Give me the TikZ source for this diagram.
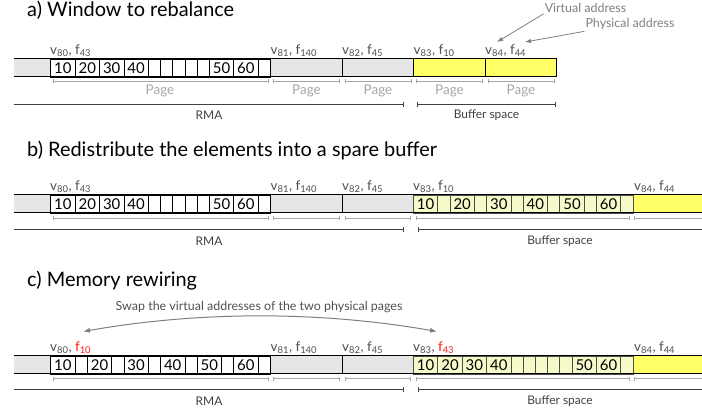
\documentclass[tikz,border=0pt]{standalone}
\usepackage{fontspec}
\setmainfont{Lato}
\usetikzlibrary{arrows.meta}
\definecolor{bargray}{HTML}{E6E6E6}
\definecolor{bufyellow}{HTML}{FFFF66}
\definecolor{lightyellow}{HTML}{F5FAC8}
\definecolor{labgray}{HTML}{505050}
\definecolor{pagegray}{HTML}{A6A6A6}
\definecolor{rulegray}{HTML}{404040}
\definecolor{arrowgray}{HTML}{7F7F7F}
\definecolor{hlred}{HTML}{FF1A1A}
\newcommand\cellsA[4]{%
  \foreach \o/\w/\t [count=\i] in {0/2/10,2/2/20,4/2/30,6/2/40,8/1/,9/1/,10/1/,11/1/,12/1/,13/2/50,15/2/60,17/1/}{
    \node[#3, minimum width=\w*12.2bp] (#4-\i) at ({#1+\o*12.2},#2) {\t};
  }}
\newcommand\cellsB[4]{%
  \foreach \o/\w/\t [count=\i] in {0/2/10,2/1/,3/2/20,5/1/,6/2/30,8/1/,9/2/40,11/1/,12/2/50,14/1/,15/2/60,17/1/}{
    \node[#3, minimum width=\w*12.2bp] (#4-\i) at ({#1+\o*12.2},#2) {\t};
  }}
\begin{document}
\begin{tikzpicture}[x=1bp,y=-1bp,
  title/.style={anchor=base west, inner sep=0, font=\fontsize{20}{23}\selectfont},
  addr/.style={anchor=base west, inner sep=0, text=labgray, font=\fontsize{13.5}{15}\selectfont},
  cellw/.style={draw=black, fill=white, line width=0.8bp, inner sep=0, minimum height=18bp, anchor=north west, font=\fontsize{15}{17}\selectfont},
  celly/.style={cellw, fill=lightyellow, draw=black!70},
  barline/.style={draw=black, line width=0.8bp},
  pagebr/.style={draw=pagegray, line width=0.7bp},
  pagetxt/.style={text=pagegray, inner sep=0, font=\fontsize{13.5}{15}\selectfont},
  rmaline/.style={draw=rulegray, line width=1bp},
  rmatxt/.style={text=rulegray, inner sep=0, font=\fontsize{12}{14}\selectfont},
  annot/.style={text=arrowgray, inner sep=0, font=\fontsize{12.5}{14}\selectfont},
  annarrow/.style={draw=arrowgray, line width=0.8bp, -{Latex[length=6bp,width=4.5bp]}},
  swaparrow/.style={draw=arrowgray, line width=1bp, {Latex[length=7bp,width=5bp]}-{Latex[length=7bp,width=5bp]}}
]
\useasboundingbox (0,0) rectangle (702,415);

% ---------------- a)
\node[title] (ta) at (27,16) {a) Window to rebalance};
\fill[bargray] (14,58.5) rectangle (413.5,76.5);
\fill[bufyellow] (413.5,58.5) rectangle (556.5,76.5);
\cellsA{50.3}{58.5}{cellw}{a1}
\draw[barline] (14,58.5) -- (556.5,58.5) -- (556.5,76.5) -- (14,76.5);
\draw[barline] (270.5,58.5) -- (270.5,76.5) (342,58.5) -- (342,76.5) (413.5,58.5) -- (413.5,76.5) (485,58.5) -- (485,76.5);
\node[addr] (a80) at (50,54.5) {v\textsubscript{80}, f\textsubscript{43}};
\node[addr] (a81) at (270.5,54.5) {v\textsubscript{81}, f\textsubscript{140}};
\node[addr] (a82) at (342,54.5) {v\textsubscript{82}, f\textsubscript{45}};
\node[addr] (a83) at (413.5,54.5) {v\textsubscript{83}, f\textsubscript{10}};
\node[addr] (a84) at (485,54.5) {v\textsubscript{84}, f\textsubscript{44}};
\draw[pagebr, {Bar[width=4bp]}-{Bar[width=4bp]}] (52.5,81) -- (268.5,81);
\draw[pagebr, {Bar[width=4bp]}-{Bar[width=4bp]}] (273,81) -- (340,81);
\draw[pagebr, {Bar[width=4bp]}-{Bar[width=4bp]}] (344.5,81) -- (411.5,81);
\draw[pagebr, {Bar[width=4bp]}-{Bar[width=4bp]}] (416,81) -- (483,81);
\draw[pagebr, {Bar[width=4bp]}-{Bar[width=4bp]}] (487.5,81) -- (554.5,81);
\node[pagetxt] (p1) at (160,91) {Page};
\node[pagetxt] (p2) at (306.5,91) {Page};
\node[pagetxt] (p3) at (378,91) {Page};
\node[pagetxt] (p4) at (449.5,91) {Page};
\node[pagetxt] (p5) at (521,91) {Page};
\draw[rmaline, -{Bar[width=5bp]}] (14,104.3) -- (404,104.3);
\draw[rmaline, {Bar[width=5bp]}-{Bar[width=5bp]}] (417,104.3) -- (556,104.3);
\node[rmatxt] (arma) at (209,115.5) {RMA};
\node[rmatxt] (abuf) at (486.5,115.5) {Buffer space};
\node[annot] (virt) at (585.5,8) {Virtual address};
\node[annot] (phys) at (630,23.5) {Physical address};
\coordinate (vtip) at (497,42);
\coordinate (ptip) at (525,42);
\draw[annarrow] ([xshift=-1bp,yshift=-1bp]virt.south west) -- (vtip);
\draw[annarrow] ([xshift=-1bp,yshift=-2bp]phys.south west) -- (ptip);

% ---------------- b)
\node[title] (tb) at (27,156.7) {b) Redistribute the elements into a spare buffer};
\fill[bargray] (14,194.5) rectangle (413,212.5);
\fill[bufyellow] (632,194.5) rectangle (702,212.5);
\cellsA{50.3}{194.5}{cellw}{b1}
\cellsB{413}{194.5}{celly}{b4}
\draw[barline] (14,194.5) -- (702,194.5) (14,212.5) -- (702,212.5);
\draw[barline] (270.5,194.5) -- (270.5,212.5) (342,194.5) -- (342,212.5);
\node[addr] (b80) at (50,190.5) {v\textsubscript{80}, f\textsubscript{43}};
\node[addr] (b81) at (270.5,190.5) {v\textsubscript{81}, f\textsubscript{140}};
\node[addr] (b82) at (342,190.5) {v\textsubscript{82}, f\textsubscript{45}};
\node[addr] (b83) at (413,190.5) {v\textsubscript{83}, f\textsubscript{10}};
\node[addr] (b84) at (634,190.5) {v\textsubscript{84}, f\textsubscript{44}};
\draw[pagebr, {Bar[width=4bp]}-{Bar[width=4bp]}] (52.5,218.3) -- (268.5,218.3);
\draw[pagebr, {Bar[width=4bp]}-{Bar[width=4bp]}] (273,218.3) -- (340,218.3);
\draw[pagebr, {Bar[width=4bp]}-{Bar[width=4bp]}] (344.5,218.3) -- (411,218.3);
\draw[pagebr, {Bar[width=4bp]}-{Bar[width=4bp]}] (415.5,218.3) -- (629.5,218.3);
\draw[pagebr, {Bar[width=4bp]}-] (634,218.3) -- (702,218.3);
\draw[rmaline, -{Bar[width=5bp]}] (14,229) -- (404,229);
\draw[rmaline, {Bar[width=5bp]}-] (418,229) -- (702,229);
\node[rmatxt] (brma) at (209,241) {RMA};
\node[rmatxt] (bbuf) at (560,241) {Buffer space};

% ---------------- c)
\node[title] (tc) at (27,286.7) {c) Memory rewiring};
\node[annot, text=labgray] (swap) at (259,306.7) {Swap the virtual addresses of the two physical pages};
\fill[bargray] (14,355.5) rectangle (413,373.5);
\fill[bufyellow] (632,355.5) rectangle (702,373.5);
\cellsB{50.3}{355.5}{cellw}{c1}
\cellsA{413}{355.5}{celly}{c4}
\draw[barline] (14,355.5) -- (702,355.5) (14,373.5) -- (702,373.5);
\draw[barline] (270.5,355.5) -- (270.5,373.5) (342,355.5) -- (342,373.5);
\node[addr] (c80) at (50,351.5) {v\textsubscript{80}, \textcolor{hlred}{f\textsubscript{10}}};
\node[addr] (c81) at (270.5,351.5) {v\textsubscript{81}, f\textsubscript{140}};
\node[addr] (c82) at (342,351.5) {v\textsubscript{82}, f\textsubscript{45}};
\node[addr] (c83) at (413,351.5) {v\textsubscript{83}, \textcolor{hlred}{f\textsubscript{43}}};
\node[addr] (c84) at (634,351.5) {v\textsubscript{84}, f\textsubscript{44}};
\coordinate (sl) at (83,331.5);
\coordinate (sr) at (437,331.5);
\draw[swaparrow] (sl) .. controls (200,311) and (320,311) .. (sr);
\draw[pagebr, {Bar[width=4bp]}-{Bar[width=4bp]}] (52.5,378.5) -- (268.5,378.5);
\draw[pagebr, {Bar[width=4bp]}-{Bar[width=4bp]}] (273,378.5) -- (340,378.5);
\draw[pagebr, {Bar[width=4bp]}-{Bar[width=4bp]}] (344.5,378.5) -- (411,378.5);
\draw[pagebr, {Bar[width=4bp]}-{Bar[width=4bp]}] (415.5,378.5) -- (629.5,378.5);
\draw[pagebr, {Bar[width=4bp]}-] (634,378.5) -- (702,378.5);
\draw[rmaline, -{Bar[width=5bp]}] (14,389.3) -- (404,389.3);
\draw[rmaline, {Bar[width=5bp]}-] (418,389.3) -- (702,389.3);
\node[rmatxt] (crma) at (209,401.5) {RMA};
\node[rmatxt] (cbuf) at (560,401.5) {Buffer space};
\end{tikzpicture}
\end{document}
